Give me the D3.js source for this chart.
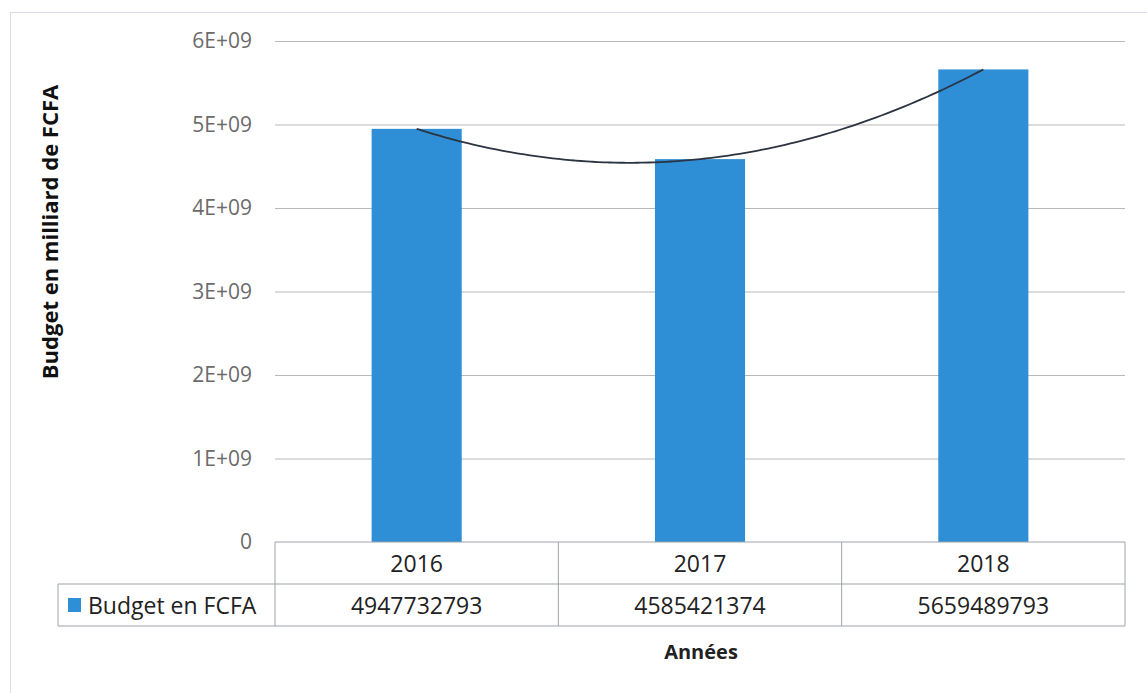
<!DOCTYPE html>
<html>
<head>
<meta charset="utf-8">
<script src="https://cdn.jsdelivr.net/npm/d3@7"></script>
<style>
    body { margin: 0; background: #fff; }
    text { font-family: "Open Sans", "Noto Sans", sans-serif; }
    .tick text { fill: #6b6b6b; font-size: 21px; }
</style>
</head>
<body>
<div id="box-div"></div>
<script>
// data
const years = ['2016', '2017', '2018']
const budgets = [4947732793, 4585421374, 5659489793]
const yTicks = [0, 1e9, 2e9, 3e9, 4e9, 5e9, 6e9]
const seriesName = 'Budget en FCFA'

let dms = {
    width: 1147,
    height: 693,
    margin: {
        top: 41,
        right: 22,
        bottom: 151,
        left: 275
    }
}

dms.chartWidth = dms.width - dms.margin.left - dms.margin.right
dms.chartHeight = dms.height - dms.margin.top - dms.margin.bottom
dms.rowH = 42

const box = d3.select('#box-div').append('svg')
    .attr('width', dms.width)
    .attr('height', dms.height)

// chart border
box.append('rect')
    .attr('x', 10.5)
    .attr('y', 12.5)
    .attr('width', dms.width - 6)
    .attr('height', dms.height - 6)
    .attr('fill', 'none')
    .attr('stroke', '#d9dde4')

const content = box.append('g')
    .attr('transform', `translate(${dms.margin.left}, ${dms.margin.top})`)

const xScale = d3.scaleBand()
    .domain(years)
    .range([0, dms.chartWidth])
    .padding(0)

const yScale = d3.scaleLinear()
    .domain([0, 6e9])
    .range([dms.chartHeight, 0])

// grid + y labels
const yAxis = content.append('g')
    .call(d3.axisLeft(yScale)
        .tickValues(yTicks)
        .tickSize(-dms.chartWidth)
        .tickPadding(23)
        .tickFormat(d => d === 0 ? '0' : `${d / 1e9}E+09`))
yAxis.select('.domain').remove()
yAxis.selectAll('.tick line')
    .attr('stroke', '#b9b9b9')
    .attr('stroke-width', 1.2)
yAxis.selectAll('.tick').filter(d => d === 0).select('line').remove()

// bars
const barW = xScale.bandwidth() * 0.318
content.append('g')
    .selectAll('rect')
    .data(budgets)
    .join('rect')
    .attr('x', (d, i) => xScale(years[i]) + xScale.bandwidth() / 2 - barW / 2)
    .attr('y', d => yScale(d))
    .attr('width', barW)
    .attr('height', d => dms.chartHeight - yScale(d))
    .attr('fill', '#2e8ed6')

// polynomial (order 2) trend line through the three points
const xi = [1, 2, 3]
const a = (budgets[2] - 2 * budgets[1] + budgets[0]) / 2
const b = (budgets[1] - budgets[0]) - a * (xi[1] * xi[1] - xi[0] * xi[0])
const c = budgets[0] - a - b
const trendPts = d3.range(1, 3.001, 0.02).map(t => [t, a * t * t + b * t + c])
const tx = d3.scaleLinear()
    .domain([1, 3])
    .range([xScale(years[0]) + xScale.bandwidth() / 2, xScale(years[2]) + xScale.bandwidth() / 2])

content.append('path')
    .datum(trendPts)
    .attr('fill', 'none')
    .attr('stroke', '#2b3440')
    .attr('stroke-width', 1.8)
    .attr('d', d3.line().x(d => tx(d[0])).y(d => yScale(d[1])).curve(d3.curveBasis))

// data table
const table = content.append('g')
    .attr('transform', `translate(0, ${dms.chartHeight})`)
const lineColor = '#9ea3a8'
const legendLeft = 58 - dms.margin.left

table.append('line')
    .attr('x1', 0).attr('x2', dms.chartWidth)
    .attr('y1', 0).attr('y2', 0)
    .attr('stroke', lineColor)
table.append('line')
    .attr('x1', legendLeft).attr('x2', dms.chartWidth)
    .attr('y1', dms.rowH).attr('y2', dms.rowH)
    .attr('stroke', lineColor)
table.append('line')
    .attr('x1', legendLeft).attr('x2', dms.chartWidth)
    .attr('y1', dms.rowH * 2).attr('y2', dms.rowH * 2)
    .attr('stroke', lineColor)
table.append('line')
    .attr('x1', legendLeft).attr('x2', legendLeft)
    .attr('y1', dms.rowH).attr('y2', dms.rowH * 2)
    .attr('stroke', lineColor)

table.selectAll('.col-line')
    .data(years.concat(['end']))
    .join('line')
    .attr('class', 'col-line')
    .attr('x1', (d, i) => i * xScale.bandwidth())
    .attr('x2', (d, i) => i * xScale.bandwidth())
    .attr('y1', 0).attr('y2', dms.rowH * 2)
    .attr('stroke', lineColor)

table.selectAll('.year')
    .data(years)
    .join('text')
    .attr('class', 'year')
    .attr('x', d => xScale(d) + xScale.bandwidth() / 2)
    .attr('y', 30)
    .attr('text-anchor', 'middle')
    .attr('font-size', 23)
    .attr('fill', '#222')
    .text(d => d)

table.selectAll('.val')
    .data(budgets)
    .join('text')
    .attr('class', 'val')
    .attr('x', (d, i) => xScale(years[i]) + xScale.bandwidth() / 2)
    .attr('y', dms.rowH + 30)
    .attr('text-anchor', 'middle')
    .attr('font-size', 23)
    .attr('fill', '#222')
    .text(d => d)

// legend key
table.append('rect')
    .attr('x', legendLeft + 10)
    .attr('y', dms.rowH + 14)
    .attr('width', 13)
    .attr('height', 14)
    .attr('fill', '#2e8ed6')
table.append('text')
    .attr('x', legendLeft + 30)
    .attr('y', dms.rowH + 30)
    .attr('font-size', 23)
    .attr('fill', '#222')
    .text(seriesName)

// axis titles
box.append('text')
    .attr('x', dms.margin.left + dms.chartWidth / 2 + 1)
    .attr('y', 659)
    .attr('text-anchor', 'middle')
    .attr('font-size', 20)
    .attr('font-weight', 'bold')
    .attr('fill', '#222')
    .text('Années')

box.append('text')
    .attr('transform', 'translate(58, 232) rotate(-90)')
    .attr('text-anchor', 'middle')
    .attr('font-size', 22)
    .attr('font-weight', 'bold')
    .attr('fill', '#111')
    .text('Budget en milliard de FCFA')
</script>
</body>
</html>
